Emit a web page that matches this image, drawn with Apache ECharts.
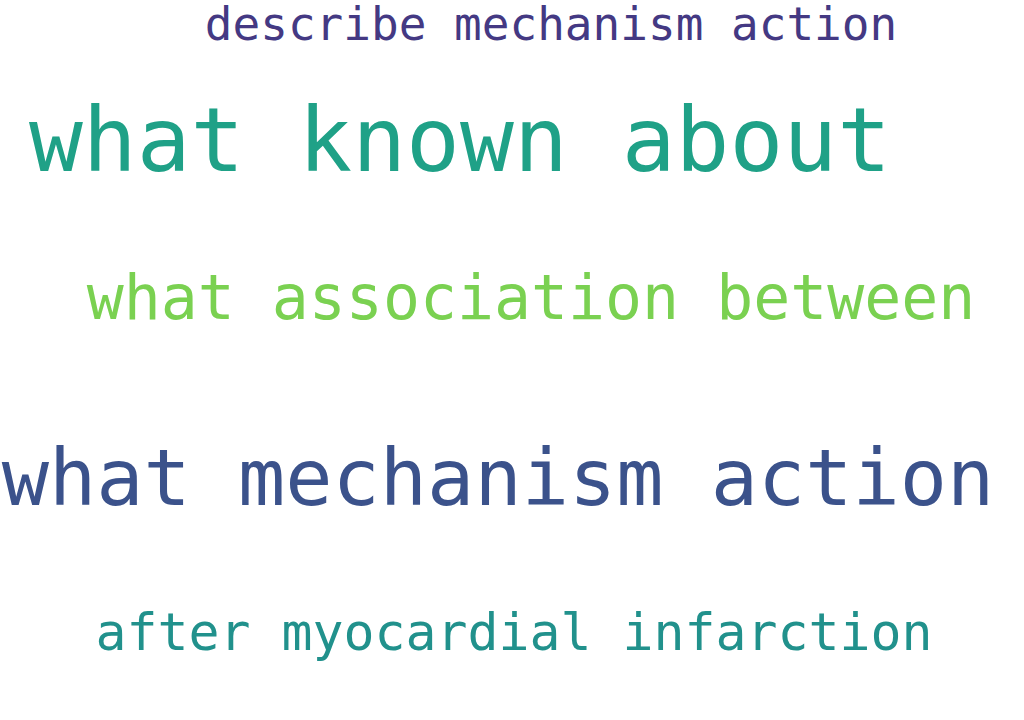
<!DOCTYPE html>
<html>
<head>
<meta charset="utf-8">
<script src="https://cdn.jsdelivr.net/npm/echarts@6/dist/echarts.min.js"></script>
<style>html,body{margin:0;padding:0;background:#fff}#chart{width:1024px;height:720px}</style>
</head>
<body>
<div id="chart"></div>
<script>
// phrases and their placement in the cloud
const phrases = ['describe mechanism action', 'what known about', 'what association between', 'what mechanism action', 'after myocardial infarction'];
const fontSizes = [46, 89.5, 61.5, 78.5, 51.5];
const centerX = [551, 460, 531, 498, 514];
const centerY = [24, 140, 298, 478, 632];
const colors = ['#443983', '#1fa187', '#7ad151', '#3b528b', '#21918c'];

const chart = echarts.init(document.getElementById('chart'), null, {renderer: 'svg'});

chart.setOption({
    animation: false,
    grid: {left: 0, right: 0, top: 0, bottom: 0},
    xAxis: {type: 'value', min: 0, max: 1024, show: false},
    yAxis: {type: 'value', min: 0, max: 720, inverse: true, show: false},
    series: [{
        type: 'scatter',
        symbolSize: 0,
        itemStyle: {opacity: 1},
        data: phrases.map((p, i) => ({
            value: [centerX[i], centerY[i]],
            name: p,
            label: {
                show: true,
                formatter: p,
                position: 'inside',
                fontFamily: 'DejaVu Sans Mono',
                fontSize: fontSizes[i],
                color: colors[i],
                opacity: 1
            }
        }))
    }]
});
</script>
</body>
</html>
